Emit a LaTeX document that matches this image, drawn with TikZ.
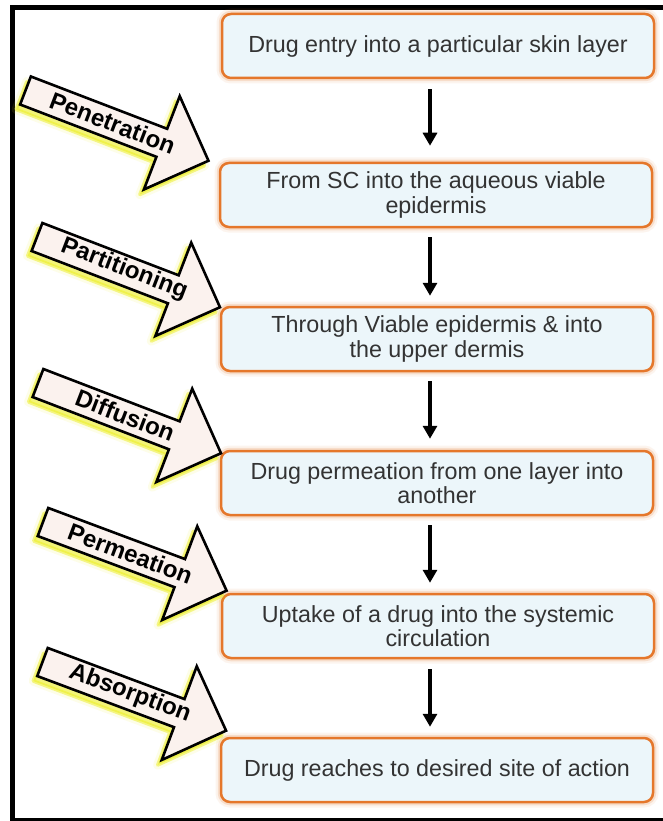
\documentclass[tikz,border=0pt]{standalone}
\usepackage{fontspec}
\setmainfont{Liberation Sans}
\usetikzlibrary{arrows.meta}
\definecolor{boxfill}{HTML}{ECF6FA}
\definecolor{boxline}{HTML}{E5772B}
\definecolor{arrfill}{HTML}{FBF2EE}
\definecolor{glowy}{HTML}{EDEF1E}
\definecolor{txt}{HTML}{333333}
\tikzset{
  box/.style={rectangle, rounded corners=9pt, draw=boxline, line width=2.5pt,
    fill=boxfill, minimum width=432pt, minimum height=64pt, align=center,
    text=txt, font=\fontsize{23.3}{24.5}\selectfont,
    preaction={draw=boxline, line width=11pt, draw opacity=0.08},
    preaction={draw=boxline, line width=6.5pt, draw opacity=0.18}},
  flow/.style={line width=3.2pt, draw=black, -{Triangle[length=13pt,width=14pt]}},
  lbl/.style={font=\bfseries\fontsize{24}{24}\selectfont, text=black, inner sep=0pt},
  frame/.style={draw=black, line width=5pt}
}
\newcommand\arrowshape[1]{\path[#1] (0,-15) -- (146,-15) -- (146,-50) -- (196,0) -- (146,50) -- (146,15) -- (0,15) -- cycle;}
\newcommand\sidearrow[5]{%
  \begin{scope}[shift={(#1-4,#2+5)}, rotate=-#3]
    \arrowshape{fill=glowy, draw=glowy, line width=9pt, opacity=0.10, line join=round}
    \arrowshape{fill=glowy, draw=glowy, line width=3.5pt, opacity=0.5, line join=round}
  \end{scope}
  \begin{scope}[shift={(#1,#2)}, rotate=-#3]
    \arrowshape{fill=arrfill, draw=black, line width=2.6pt, line join=miter}
    \node[lbl, rotate=-#3] (#5) at (93,-1) {#4};
  \end{scope}}
\begin{document}
\begin{tikzpicture}[x=1pt, y=-1pt]
  \useasboundingbox (0,0) rectangle (663,821);
  \fill[white] (0,0) rectangle (663,821);
  % frame
  \draw[frame] (663,7.5) -- (12.5,7.5) -- (12.5,819.5);
  \draw[draw=black, line width=2.5pt] (10,819.5) -- (663,819.5);
  % boxes
  \node[box] (b1) at (438,46)  {Drug entry into a particular skin layer};
  \node[box] (b2) at (436,195) {From SC into the aqueous viable\\epidermis};
  \node[box] (b3) at (437,339) {Through Viable epidermis \& into\\the upper dermis};
  \node[box] (b4) at (437,483) {Drug permeation from one layer into\\another};
  \node[box] (b5) at (438,626) {Uptake of a drug into the systemic\\circulation};
  \node[box] (b6) at (437,770) {Drug reaches to desired site of action};
  % down arrows
  \draw[flow] ([xshift=-8pt,yshift=-10pt]b1.south) -- ([xshift=-6pt,yshift=16pt]b2.north);
  \draw[flow] ([xshift=-6pt,yshift=-9pt]b2.south) -- ([xshift=-7pt,yshift=10pt]b3.north);
  \draw[flow] ([xshift=-7pt,yshift=-9pt]b3.south) -- ([xshift=-7pt,yshift=11pt]b4.north);
  \draw[flow] ([xshift=-7pt,yshift=-9pt]b4.south) -- ([xshift=-8pt,yshift=10pt]b5.north);
  \draw[flow] ([xshift=-8pt,yshift=-10pt]b5.south) -- ([xshift=-7pt,yshift=10pt]b6.north);
  % side arrows
  \sidearrow{25.5}{90.5}{21}{Penetration}{l1}
  \sidearrow{37}{237}{21}{Partitioning}{l2}
  \sidearrow{38}{383}{21}{Diffusion}{l3}
  \sidearrow{43}{522}{20.5}{Permeation}{l4}
  \sidearrow{42.5}{662}{20.5}{Absorption}{l5}
\end{tikzpicture}
\end{document}
